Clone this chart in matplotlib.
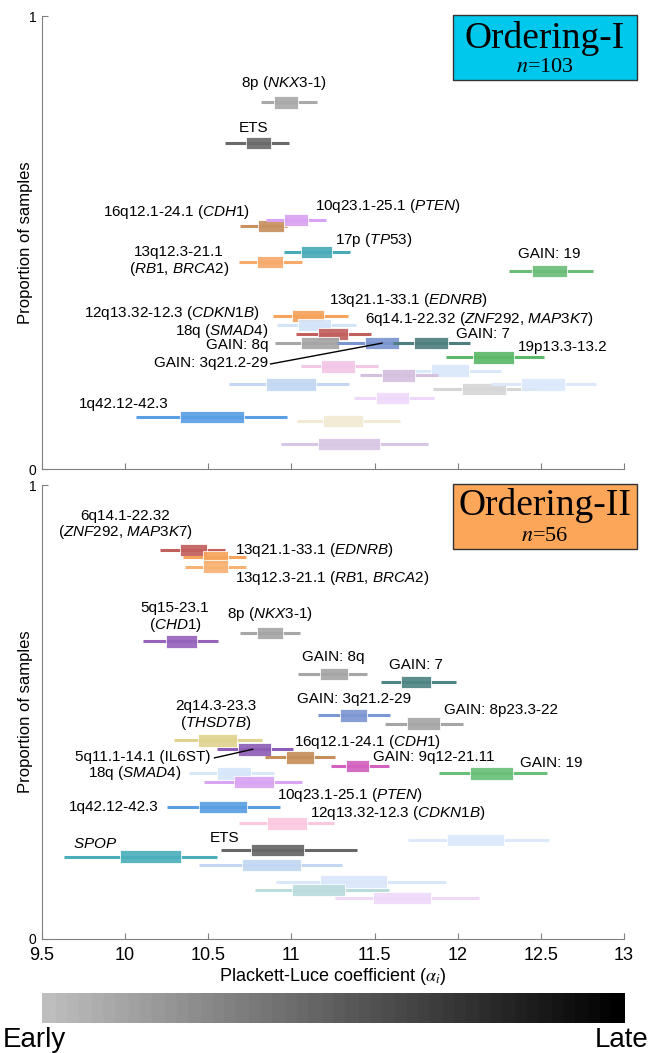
import numpy as np
import matplotlib
matplotlib.use("Agg")
from matplotlib import pyplot as plt
from matplotlib.colors import LinearSegmentedColormap

plt.rcParams['font.family'] = ['Liberation Sans', 'DejaVu Sans']
plt.rcParams['mathtext.fontset'] = 'custom'
plt.rcParams['mathtext.rm'] = 'Liberation Sans'
plt.rcParams['mathtext.it'] = 'Liberation Sans:italic'

# ---- Ordering-I (n=103): whisker low, box low, box high, whisker high, proportion
ord1_lo = [10.8175, 10.60, 10.6925, 10.85, 10.955, 10.6825, 12.3075, 10.8875, 10.9125, 11.03,
           10.90, 11.275, 11.61, 11.93, 11.055, 11.68, 11.41, 10.625, 11.85, 12.20,
           11.375, 10.0675, 11.035, 10.94]
ord1_q1 = [10.895, 10.725, 10.80, 10.955, 11.06, 10.795, 12.445, 11.005, 11.0375, 11.1625,
           11.055, 11.44, 11.74, 12.09, 11.18, 11.84, 11.545, 10.845, 12.025, 12.38,
           11.51, 10.33, 11.19, 11.16]
ord1_q3 = [11.0375, 10.875, 10.955, 11.10, 11.245, 10.95, 12.655, 11.195, 11.2375, 11.3375,
           11.2875, 11.645, 11.94, 12.34, 11.38, 12.07, 11.745, 11.145, 12.29, 12.645,
           11.705, 10.7175, 11.43, 11.53]
ord1_hi = [11.155, 10.9875, 10.975, 11.205, 11.35, 11.0625, 12.8125, 11.3425, 11.3875, 11.48,
           11.2875, 11.81, 12.075, 12.52, 11.52, 12.26, 11.88, 11.345, 12.475, 12.83,
           11.86, 10.975, 11.65, 11.82]
ord1_y = [0.810, 0.720, 0.537, 0.550, 0.479, 0.457, 0.437, 0.338, 0.318, 0.298,
          0.278, 0.278, 0.278, 0.247, 0.227, 0.217, 0.207, 0.187, 0.177, 0.187,
          0.157, 0.115, 0.106, 0.055]
ord1_col = ['#a9a9a9', '#6b6b6b', '#c8915f', '#d9a2f2', '#4aabb8', '#f6aa6c', '#6cbd78',
            '#f6a35c', '#d3e4fa', '#c2605e', '#a6a6a6', '#7b95cf', '#4f7f80', '#5cb96a',
            '#f2c6e6', '#d9e8fb', '#d5c0e0', '#c3d7f3', '#d6d6d6', '#dce9fb', '#efd9fb',
            '#5b9fe3', '#f2ead2', '#d7c6e4']

ord1_labels = ['8p ($\\it{NKX3}$-$\\it{1}$)', 'ETS', '16q12.1-24.1 ($\\it{CDH1}$)',
               '10q23.1-25.1 ($\\it{PTEN}$)', '17p ($\\it{TP53}$)',
               '13q12.3-21.1\n($\\it{RB1}$, $\\it{BRCA2}$)', 'GAIN: 19',
               '13q21.1-33.1 ($\\it{EDNRB}$)', '12q13.32-12.3 ($\\it{CDKN1B}$)',
               '6q14.1-22.32 ($\\it{ZNF292}$, $\\it{MAP3K7}$)', '18q ($\\it{SMAD4}$)',
               'GAIN: 7', 'GAIN: 8q', '19p13.3-13.2', 'GAIN: 3q21.2-29', '1q42.12-42.3']
ord1_lab_x = [10.955, 10.775, 10.75, 11.14, 11.26, 10.325, 12.55, 11.225, 10.81,
              11.445, 10.86, 11.99, 10.86, 12.36, 10.86, 9.99]
ord1_lab_y = [0.852, 0.753, 0.567, 0.580, 0.506, 0.459, 0.475, 0.373, 0.345,
              0.331, 0.305, 0.298, 0.274, 0.269, 0.234, 0.143]
ord1_lab_ha = ['center', 'center', 'right', 'left', 'left', 'center', 'center', 'left',
               'right', 'left', 'right', 'left', 'right', 'left', 'right', 'center']

# ---- Ordering-II (n=56)
ord2_lo = [10.2125, 10.35, 10.36, 10.1075, 10.69, 11.04, 11.54, 11.16, 11.56, 10.295,
           10.55, 10.84, 11.2375, 11.8875, 10.3825, 10.475, 10.25, 10.6875, 11.70,
           10.575, 9.6325, 10.4425, 10.905, 10.78, 11.2625]
ord2_q1 = [10.33, 10.47, 10.47, 10.245, 10.795, 11.17, 11.66, 11.29, 11.695, 10.4375,
           10.68, 10.965, 11.33, 12.075, 10.555, 10.655, 10.4425, 10.855, 11.9375,
           10.755, 9.97, 10.70, 11.17, 11.005, 11.4925]
ord2_q3 = [10.495, 10.62, 10.62, 10.4325, 10.95, 11.34, 11.84, 11.455, 11.895, 10.67,
           10.88, 11.1375, 11.4675, 12.33, 10.7575, 10.8925, 10.73, 11.0925, 12.28,
           11.075, 10.3375, 11.0575, 11.575, 11.32, 11.8375]
ord2_hi = [10.60, 10.725, 10.725, 10.5575, 11.05, 11.455, 11.99, 11.59, 12.03, 10.825,
           11.01, 11.26, 11.5875, 12.5375, 10.8925, 11.0625, 10.9325, 11.255, 12.55,
           11.395, 10.555, 11.305, 11.93, 11.5875, 12.13]
ord2_y = [0.857, 0.841, 0.820, 0.656, 0.674, 0.584, 0.566, 0.493, 0.474, 0.438,
          0.418, 0.400, 0.381, 0.365, 0.365, 0.346, 0.291, 0.255, 0.218,
          0.196, 0.181, 0.163, 0.126, 0.108, 0.090]
ord2_col = ['#c2605e', '#f6a45c', '#f8b274', '#9764bc', '#a6a6a6', '#a6a6a6', '#4f8585',
            '#7d97d2', '#a6a6a6', '#e0d38f', '#8e5eb6', '#c68e5c', '#d361bf', '#6abf78',
            '#d6e6fb', '#d9a4f2', '#5b9fe3', '#fbc8e0', '#dce9fb', '#676767', '#4bafbb',
            '#c3d7f3', '#dae7fa', '#badcdd', '#efd9fb']

ord2_labels = ['6q14.1-22.32\n($\\it{ZNF292}$, $\\it{MAP3K7}$)', '13q21.1-33.1 ($\\it{EDNRB}$)',
               '13q12.3-21.1 ($\\it{RB1}$, $\\it{BRCA2}$)', '5q15-23.1\n($\\it{CHD1}$)',
               '8p ($\\it{NKX3}$-$\\it{1}$)', 'GAIN: 8q', 'GAIN: 7', 'GAIN: 3q21.2-29',
               'GAIN: 8p23.3-22', '2q14.3-23.3\n($\\it{THSD7B}$)', '16q12.1-24.1 ($\\it{CDH1}$)',
               '5q11.1-14.1 (IL6ST)', 'GAIN: 9q12-21.11', 'GAIN: 19', '18q ($\\it{SMAD4}$)',
               '10q23.1-25.1 ($\\it{PTEN}$)', '1q42.12-42.3', '12q13.32-12.3 ($\\it{CDKN1B}$)',
               'ETS', '$\\it{SPOP}$']
ord2_lab_x = [10.0, 10.6625, 10.6625, 10.30, 10.6125, 11.25, 11.75, 11.375, 11.92, 10.545,
              11.0175, 10.5125, 11.4925, 12.375, 10.3375, 10.9125, 10.20, 11.1125, 10.60, 9.82]
ord2_lab_y = [0.912, 0.857, 0.795, 0.709, 0.716, 0.621, 0.603, 0.529, 0.504, 0.493,
              0.434, 0.401, 0.401, 0.388, 0.365, 0.317, 0.291, 0.278, 0.222, 0.209]
ord2_lab_ha = ['center', 'left', 'left', 'center', 'left', 'center', 'center', 'center',
               'left', 'center', 'left', 'right', 'left', 'left', 'right', 'left', 'right',
               'left', 'center', 'center']

xticks = [9.5, 10, 10.5, 11, 11.5, 12, 12.5, 13]


def draw_panel(ax, lo, q1, q3, hi, y, cols, labels, lx, ly, ha):
    for i in range(len(y)):
        ax.hlines(y[i], lo[i], hi[i], color=cols[i], lw=2.2, zorder=2 + i * 0.01)
        ax.barh(y[i], q3[i] - q1[i], left=q1[i], height=0.028, color=cols[i],
                edgecolor='white', linewidth=0.6, alpha=0.92, zorder=2.005 + i * 0.01)
    for t, x0, y0, h in zip(labels, lx, ly, ha):
        ax.text(x0, y0, t, ha=h, va='center', fontsize=11, linespacing=1.05, zorder=5)
    ax.set_xlim(9.5, 13)
    ax.set_ylim(0, 1)
    ax.set_yticks([0, 1])
    ax.set_xticks(xticks)
    ax.tick_params(direction='in', length=4, color='#808080', labelsize=13, width=0.8, pad=6)
    ax.tick_params(axis='y', labelsize=10, pad=4)
    for s in ['top', 'right']:
        ax.spines[s].set_visible(False)
    for s in ['left', 'bottom']:
        ax.spines[s].set_color('#808080')
    ax.set_ylabel('Proportion of samples', fontsize=12)
    ax.yaxis.set_label_coords(-0.016, 0.5)


fig = plt.figure(figsize=(6.5, 10.53), dpi=100)
ax1 = fig.add_axes([0.0646, 0.5546, 0.8954, 0.430])
ax2 = fig.add_axes([0.0646, 0.1083, 0.8954, 0.431])

draw_panel(ax1, ord1_lo, ord1_q1, ord1_q3, ord1_hi, ord1_y, ord1_col,
           ord1_labels, ord1_lab_x, ord1_lab_y, ord1_lab_ha)
draw_panel(ax2, ord2_lo, ord2_q1, ord2_q3, ord2_hi, ord2_y, ord2_col,
           ord2_labels, ord2_lab_x, ord2_lab_y, ord2_lab_ha)
ax1.set_xticklabels([])
ax2.set_xticklabels(['9.5', '10', '10.5', '11', '11.5', '12', '12.5', '13'])
ax2.set_xlabel('Plackett-Luce coefficient ($\\alpha_i$)', fontsize=13, labelpad=1,
               math_fontfamily='stix')

# leader lines
ax1.plot([10.875, 11.545], [0.232, 0.278], color='black', lw=1.0, zorder=6)
ax2.plot([10.5375, 10.7675], [0.399, 0.418], color='black', lw=1.0, zorder=6)

# title boxes
for ax, title, n, fc, ty, ny in [(ax1, 'Ordering-I', '103', '#00c8ec', 0.950, 0.887),
                                 (ax2, 'Ordering-II', '56', '#fca65a', 0.956, 0.887)]:
    rect = plt.Rectangle((0.706, 0.86), 0.316, 0.142, transform=ax.transAxes,
                         facecolor=fc, edgecolor='#333333', lw=1.0, clip_on=False, zorder=7)
    ax.add_patch(rect)
    ax.text(0.864, ty, title, transform=ax.transAxes, ha='center', va='center',
            fontsize=27, family='Liberation Serif', zorder=8)
    ax.text(0.864, ny, '$n$=' + n, transform=ax.transAxes, ha='center', va='center',
            fontsize=16, family='Liberation Serif', math_fontfamily='stix', zorder=8)

# early / late gradient bar
cax = fig.add_axes([0.0646, 0.0285, 0.8954, 0.0285])
cmap = LinearSegmentedColormap.from_list('el', ['#bebebe', '#000000'], N=48)
cax.imshow(np.linspace(0, 1, 256).reshape(1, -1), aspect='auto', cmap=cmap)
cax.set_axis_off()
fig.text(0.004, 0.0125, 'Early', fontsize=20, ha='left', va='center')
fig.text(0.998, 0.0125, 'Late', fontsize=20, ha='right', va='center')

fig.savefig('out.png', dpi=100)
